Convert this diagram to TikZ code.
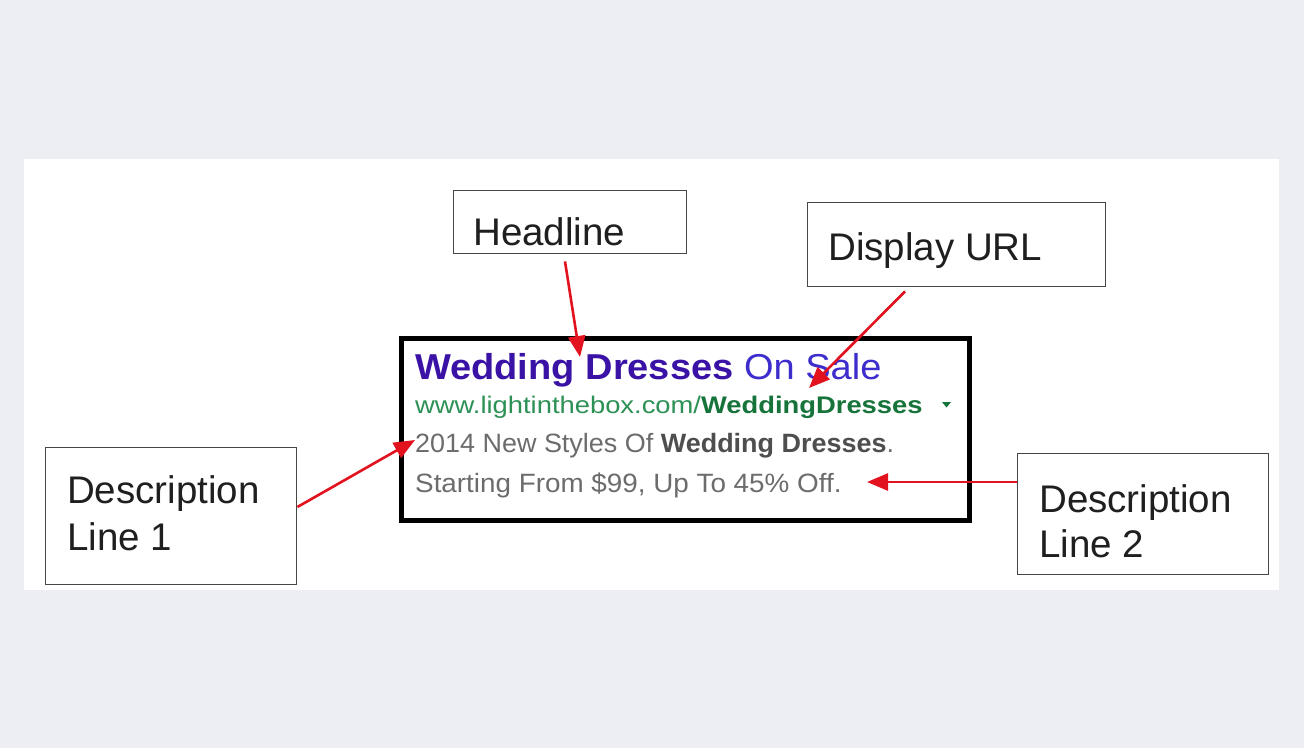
\documentclass[tikz,border=0pt]{standalone}
\usepackage{fontspec}
\setmainfont{Liberation Sans}
\usetikzlibrary{arrows.meta,calc}
\definecolor{bgc}{RGB}{237,237,244}
\definecolor{headb}{RGB}{58,18,165}
\definecolor{headr}{RGB}{62,45,205}
\definecolor{urlr}{RGB}{45,145,85}
\definecolor{urlb}{RGB}{22,115,58}
\definecolor{descr}{RGB}{108,108,108}
\definecolor{descb}{RGB}{78,78,78}
\definecolor{arrred}{RGB}{226,18,30}
\definecolor{boxc}{RGB}{70,70,70}
\tikzset{
  lblbox/.style={draw=boxc, line width=1.4pt, fill=white, inner sep=0pt, anchor=north west},
  lbltext/.style={inner sep=0pt, anchor=base west, text=black!88, font=\fontsize{38.5}{45}\selectfont},
  adline/.style={inner sep=0pt, anchor=base west},
  callout/.style={draw=arrred, line width=2.6pt, -{Triangle[length=21pt,width=17pt]}}
}
\begin{document}
\begin{tikzpicture}[x=1pt,y=-1pt]
\fill[bgc] (0,0) rectangle (1304,748);
\useasboundingbox (0,0) rectangle (1304,748);
\fill[white] (24,159) rectangle (1279,590);

% ad box
\node[draw=black, line width=5pt, inner sep=0pt, minimum width=568pt, minimum height=182pt, anchor=north west] (ad) at (398.5,335.5) {};
\node[adline] (l1) at (415,379) {\fontsize{36}{40}\selectfont\scalebox{1.056}[1]{\textcolor{headb}{\bfseries Wedding Dresses} \textcolor{headr}{On Sale}}};
\node[adline] (l2) at (415,413) {\fontsize{24}{28}\selectfont\scalebox{1.14}[1]{\textcolor{urlr}{www.lightinthebox.com/}\textcolor{urlb}{\bfseries WeddingDresses}}};
\fill[urlb] (942,402) -- (951,402) -- (946.5,407.5) -- cycle;
\node[adline] (l3) at (415,452) {\fontsize{26.5}{30}\selectfont\scalebox{1.017}[1]{\textcolor{descr}{2014 New Styles Of }\textcolor{descb}{\bfseries Wedding Dresses}\textcolor{descr}{.}}};
\node[adline] (l4) at (415,492) {\fontsize{26.5}{30}\selectfont\scalebox{1.05}[1]{\textcolor{descr}{Starting From \$99, Up To 45\% Off.}}};

% label boxes
\node[lblbox, minimum width=233pt, minimum height=63pt] (hl) at (453,190) {};
\node[lbltext] (hlt) at (473,245) {Headline};
\node[lblbox, minimum width=298pt, minimum height=84pt] (url) at (807,202) {};
\node[lbltext] (urlt) at (828,260) {Display URL};
\node[lblbox, minimum width=251pt, minimum height=137pt] (d1) at (45,447) {};
\node[lbltext] (d1a) at (67,503) {Description};
\node[lbltext] (d1b) at (67,550) {Line 1};
\node[lblbox, minimum width=251pt, minimum height=121pt] (d2) at (1017,453) {};
\node[lbltext] (d2a) at (1039,512) {Description};
\node[lbltext] (d2b) at (1039,557) {Line 2};

% arrow targets
\coordinate (hltip) at (580,357);
\coordinate (urltip) at (809,388);
\coordinate (d1tip) at (415,440);
\coordinate (d2tip) at (867,482);

\draw[callout] ($(hl.south west)+(112,7)$) -- (hltip);
\draw[callout] ($(url.south west)+(98,4)$) -- (urltip);
\draw[callout] ($(d1.north east)+(0,60)$) -- (d1tip);
\draw[callout] ($(d2.north west)+(0,29)$) -- (d2tip);
\end{tikzpicture}
\end{document}
